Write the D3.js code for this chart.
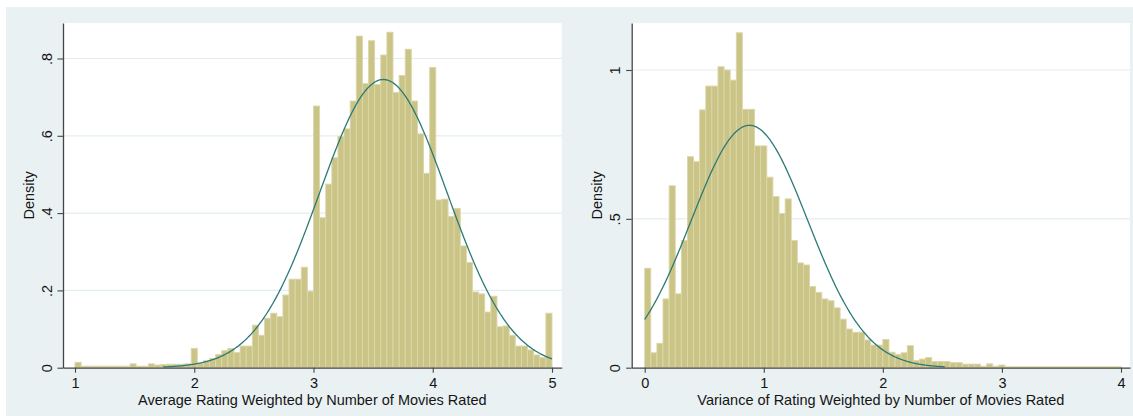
<!DOCTYPE html>
<html><head><meta charset="utf-8">
<script src="https://cdn.jsdelivr.net/npm/d3@7"></script>
<style>
body{margin:0;background:#fff}
svg{display:block}
text{font-family:"Liberation Sans",Arial,sans-serif;fill:#151515}
</style>
</head><body>
<svg id="chart" width="1133" height="416"></svg>
<script>
// ---------- data ----------
// Left: average rating, 78 equal bins from 1 to 5
const leftBinRange = [1, 5];
const leftDensity = [0.014,0.004,0.004,0.004,0.004,0.004,0.004,0.004,0.004,0.010,
  0.004,0.004,0.010,0.007,0.008,0.009,0.009,0.009,0.010,0.050,
  0.011,0.018,0.024,0.034,0.044,0.050,0.039,0.056,0.056,0.110,
  0.084,0.128,0.141,0.132,0.188,0.229,0.229,0.260,0.198,0.677,
  0.388,0.475,0.543,0.598,0.618,0.690,0.858,0.735,0.846,0.733,
  0.809,0.868,0.712,0.756,0.824,0.690,0.605,0.503,0.777,0.434,
  0.436,0.391,0.412,0.315,0.272,0.196,0.191,0.144,0.185,0.106,
  0.108,0.084,0.056,0.056,0.046,0.033,0.026,0.141];
const leftNormal = [3.586, 0.535];          // mean, sd
const leftCurveRange = [1.74, 5];
const leftXTicks = [1, 2, 3, 4, 5];
const leftXTickLabels = ["1", "2", "3", "4", "5"];
const leftYTicks = [0, 0.2, 0.4, 0.6, 0.8];
const leftYTickLabels = ["0", ".2", ".4", ".6", ".8"];
const leftXTitle = "Average Rating Weighted by Number of Movies Rated";

// Right: variance of rating, 78 equal bins from 0 to 4
const rightBinRange = [0, 4];
const rightDensity = [0.334,0.050,0.082,0.231,0.611,0.248,0.427,0.709,0.692,0.866,
  0.946,0.946,1.011,1.000,0.966,1.125,0.868,0.868,0.745,0.745,
  0.640,0.575,0.518,0.567,0.427,0.352,0.345,0.273,0.253,0.231,
  0.225,0.201,0.163,0.130,0.119,0.119,0.093,0.076,0.076,0.095,
  0.052,0.045,0.050,0.074,0.024,0.029,0.034,0.021,0.021,0.021,
  0.017,0.017,0.012,0.012,0.012,0.005,0.013,0.005,0.009,0.003,
  0.003,0.003,0.003,0.003,0.003,0.003,0.003,0.003,0.003,0.003,
  0.003,0.003,0.003,0.003,0.003,0.003,0.003,0.003];
const rightNormal = [0.88, 0.49];
const rightCurveRange = [0, 2.52];
const rightXTicks = [0, 1, 2, 3, 4];
const rightXTickLabels = ["0", "1", "2", "3", "4"];
const rightYTicks = [0, 0.5, 1];
const rightYTickLabels = ["0", ".5", "1"];
const rightXTitle = "Variance of Rating Weighted by Number of Movies Rated";
const yTitle = "Density";

// ---------- drawing ----------
const svg = d3.select("#chart");
svg.append("rect").attr("x",0).attr("y",0).attr("width",1133).attr("height",416).attr("fill","#ffffff");
svg.append("rect").attr("x",6).attr("y",7).attr("width",1127).attr("height",409).attr("fill","#e9f1f3");

const FS = 14.5;
const barFill = "#cbc487", barStroke = "#dcd7aa", curveColor = "#2b7a77", axisColor = "#454545", gridColor = "#e3edf0";

function panel(cfg){
  const {px0, px1, py0, py1, xDomain, yDomain, bins, binRange, normal, curveRange,
         xTicks, xLabels, yTicks, yLabels, xTitle} = cfg;
  const x = d3.scaleLinear().domain(xDomain).range([px0, px1]);
  const y = d3.scaleLinear().domain(yDomain).range([py1, py0]);
  const g = svg.append("g");
  g.append("rect").attr("x",px0).attr("y",py0).attr("width",px1-px0).attr("height",py1-py0).attr("fill","#fff");
  // grid
  g.selectAll("line.grid").data(yTicks.filter(d=>d>0)).enter().append("line")
    .attr("x1",px0).attr("x2",px1).attr("y1",d=>y(d)).attr("y2",d=>y(d))
    .attr("stroke",gridColor).attr("stroke-width",1.2);
  // bars
  const w = (binRange[1]-binRange[0])/bins.length;
  g.selectAll("rect.bar").data(bins).enter().append("rect")
    .attr("x",(d,i)=>x(binRange[0]+i*w))
    .attr("width",(d,i)=>x(binRange[0]+(i+1)*w)-x(binRange[0]+i*w))
    .attr("y",d=>y(d)).attr("height",d=>y(0)-y(d))
    .attr("fill",barFill).attr("stroke",barStroke).attr("stroke-width",0.9);
  // normal curve
  const [mu, sd] = normal;
  const pts = d3.range(0, 301).map(i=>{
    const v = curveRange[0] + (curveRange[1]-curveRange[0])*i/300;
    return [v, Math.exp(-0.5*((v-mu)/sd)**2)/(sd*Math.sqrt(2*Math.PI))];
  });
  g.append("path").datum(pts)
    .attr("d", d3.line().x(d=>x(d[0])).y(d=>y(d[1])))
    .attr("fill","none").attr("stroke",curveColor).attr("stroke-width",1.3);
  // x axis
  const xa = g.append("g").attr("transform",`translate(0,${py1})`)
    .call(d3.axisBottom(x).tickValues(xTicks).tickFormat((d,i)=>xLabels[i]).tickSize(5).tickSizeOuter(0));
  xa.select(".domain").attr("stroke",axisColor).attr("stroke-width",1.3);
  xa.selectAll(".tick line").attr("stroke",axisColor).attr("stroke-width",1.1);
  xa.selectAll(".tick text").attr("y",20.8).attr("dy",null).attr("font-size",FS)
    .attr("font-family",null).style("fill","#151515");
  // y axis
  const ya = g.append("g").attr("transform",`translate(${px0},0)`)
    .call(d3.axisLeft(y).tickValues(yTicks).tickFormat((d,i)=>yLabels[i]).tickSize(5.5).tickSizeOuter(0));
  ya.select(".domain").attr("stroke",axisColor).attr("stroke-width",1.3);
  ya.selectAll(".tick line").attr("stroke",axisColor).attr("stroke-width",1.1);
  ya.selectAll(".tick text").attr("x",0).attr("y",0).attr("dy",null)
    .attr("transform","translate(-11.5,0) rotate(-90)")
    .attr("text-anchor","middle").attr("font-size",FS).attr("font-family",null).style("fill","#151515");
  // titles
  g.append("text").attr("x",(px0+px1)/2).attr("y",405).attr("text-anchor","middle")
    .attr("font-size",FS).text(xTitle);
  g.append("text").attr("transform",`translate(${px0-29.5},${(py0+py1)/2}) rotate(-90)`)
    .attr("text-anchor","middle").attr("font-size",FS).text(yTitle);
}

// layout (pixel positions of plot regions)
const PY0 = 23, PY1 = 367.7;
// left: 1 -> 75px, 5 -> 552px
{
  const px0 = 63, px1 = 561.7, u = (552-75)/4;
  panel({px0, px1, py0:PY0, py1:PY1,
    xDomain:[1-(75-px0)/u, 5+(px1-552)/u],
    yDomain:[0, (PY1-PY0)/386.5],
    bins:leftDensity, binRange:leftBinRange, normal:leftNormal, curveRange:leftCurveRange,
    xTicks:leftXTicks, xLabels:leftXTickLabels, yTicks:leftYTicks, yLabels:leftYTickLabels, xTitle:leftXTitle});
}
// right: 0 -> 644.7px, 4 -> 1121px
{
  const px0 = 631.7, px1 = 1130, u = (1121-644.7)/4;
  panel({px0, px1, py0:PY0, py1:PY1,
    xDomain:[0-(644.7-px0)/u, 4+(px1-1121)/u],
    yDomain:[0, (PY1-PY0)/297.7],
    bins:rightDensity, binRange:rightBinRange, normal:rightNormal, curveRange:rightCurveRange,
    xTicks:rightXTicks, xLabels:rightXTickLabels, yTicks:rightYTicks, yLabels:rightYTickLabels, xTitle:rightXTitle});
}
</script>
</body></html>
